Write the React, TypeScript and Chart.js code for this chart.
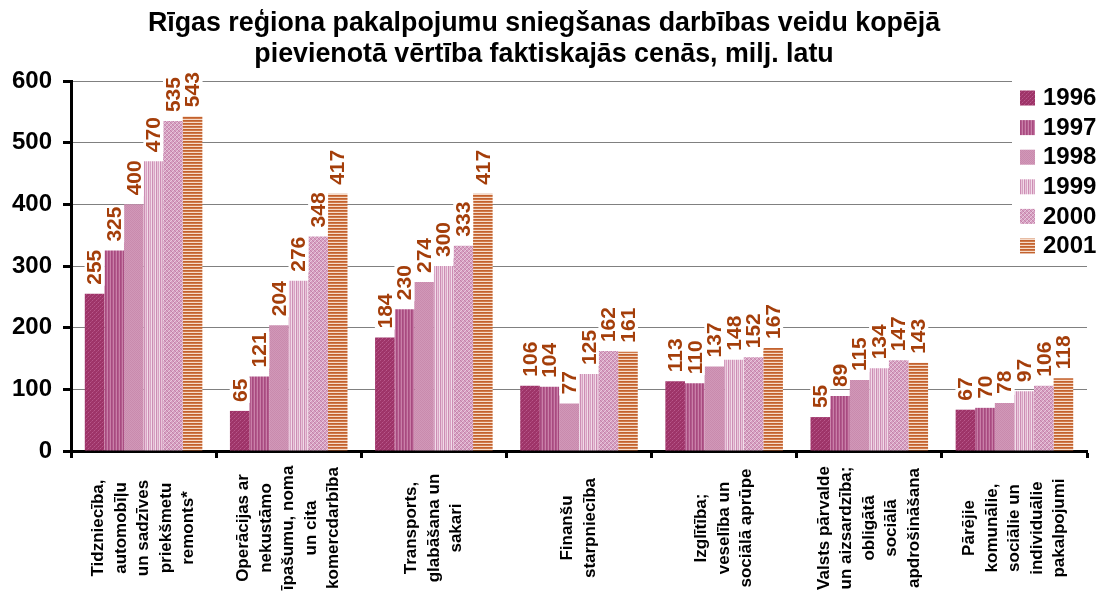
import React, { useEffect, useRef } from "react";
import { Chart, registerables } from "chart.js";
Chart.register(...registerables);

const TITLE_LINES = [
  "Rīgas reģiona pakalpojumu sniegšanas darbības veidu kopējā",
  "pievienotā vērtība faktiskajās cenās, milj. latu",
];
const CATEGORIES: string[][] = [
  ["Tidzniecība,", "automobīļu", "un sadzīves", "priekšmetu", "remonts*"],
  ["Operācijas ar", "nekustāmo", "īpašumu, noma", "un cita", "komercdarbība"],
  ["Transports,", "glabāšana un", "sakari"],
  ["Finanšu", "starpniecība"],
  ["Izglītība;", "veselība un", "sociālā aprūpe"],
  ["Valsts pārvalde", "un aizsardzība;", "obligātā", "sociālā", "apdrošināšana"],
  ["Pārējie", "komunālie,", "sociālie un", "individuālie", "pakalpojumi"],
];
const YEARS = ["1996", "1997", "1998", "1999", "2000", "2001"];
const V1996 = [255, 65, 184, 106, 113, 55, 67];
const V1997 = [325, 121, 230, 104, 110, 89, 70];
const V1998 = [400, 204, 274, 77, 137, 115, 78];
const V1999 = [470, 276, 300, 125, 148, 134, 97];
const V2000 = [535, 348, 333, 162, 152, 147, 106];
const V2001 = [543, 417, 417, 161, 167, 143, 118];
const SERIES = [V1996, V1997, V1998, V1999, V2000, V2001];
const Y_MIN = 0;
const Y_MAX = 600;
const Y_STEP = 100;

const FONT = "'Liberation Sans', Arial, sans-serif";
const LABEL_COLOR = "#a43e0a";

function makePattern(kind: number): CanvasPattern | string {
  const c = document.createElement("canvas");
  const g = c.getContext("2d")!;
  const px = (x: number, y: number, col: string) => {
    g.fillStyle = col;
    g.fillRect(x, y, 1, 1);
  };
  if (kind === 0) {
    c.width = 4; c.height = 4;
    g.fillStyle = "#9e3468"; g.fillRect(0, 0, 4, 4);
    px(0, 0, "#b8578a"); px(2, 2, "#b8578a"); px(1, 3, "#a9447a"); px(3, 1, "#a9447a");
  } else if (kind === 1) {
    c.width = 3; c.height = 1;
    px(0, 0, "#a84a80"); px(1, 0, "#b25a8c"); px(2, 0, "#c97fa8");
  } else if (kind === 2) {
    c.width = 2; c.height = 2;
    px(0, 0, "#c98aad"); px(1, 0, "#d198b8"); px(0, 1, "#d198b8"); px(1, 1, "#c98aad");
  } else if (kind === 3) {
    c.width = 4; c.height = 1;
    px(0, 0, "#cc8db4"); px(1, 0, "#e9c6da"); px(2, 0, "#d7a2c3"); px(3, 0, "#f1dbe8");
  } else if (kind === 4) {
    c.width = 4; c.height = 4;
    g.fillStyle = "#d6a0c2"; g.fillRect(0, 0, 4, 4);
    for (let i = 0; i < 4; i++) { px(i, i, "#c482a9"); px(3 - i, i, "#e8c8dc"); }
  } else {
    c.width = 1; c.height = 3;
    px(0, 0, "#c2622f"); px(0, 1, "#d07a4a"); px(0, 2, "#f6dccb");
  }
  return g.createPattern(c, "repeat") || "#c06030";
}

export default function App() {
  const ref = useRef<HTMLCanvasElement>(null);
  useEffect(() => {
    const canvas = ref.current!;
    const patterns = YEARS.map((_, i) => makePattern(i));

    const overlay = {
      id: "overlay",
      afterDatasetsDraw(chart: any) {
        const ctx = chart.ctx;
        ctx.save();
        ctx.font = `bold 21px ${FONT}`;
        ctx.textBaseline = "middle";
        ctx.textAlign = "left";
        chart.data.datasets.forEach((ds: any, di: number) => {
          const meta = chart.getDatasetMeta(di);
          meta.data.forEach((bar: any, i: number) => {
            const txt = String(ds.data[i]);
            const w = ctx.measureText(txt).width;
            ctx.fillStyle = "#ffffff";
            ctx.fillRect(bar.x - 10, bar.y - 9 - w - 1, 20, w + 2);
          });
        });
        chart.data.datasets.forEach((ds: any, di: number) => {
          const meta = chart.getDatasetMeta(di);
          meta.data.forEach((bar: any, i: number) => {
            const txt = String(ds.data[i]);
            ctx.save();
            ctx.translate(bar.x, bar.y - 9);
            ctx.rotate(-Math.PI / 2);
            ctx.fillStyle = LABEL_COLOR;
            ctx.fillText(txt, 0, 1);
            ctx.restore();
          });
        });
        ctx.restore();
      },
      afterDraw(chart: any) {
        const ctx = chart.ctx;
        const xs = chart.scales.x;
        ctx.save();
        // category labels
        ctx.font = `bold 17px ${FONT}`;
        ctx.fillStyle = "#000";
        ctx.textAlign = "center";
        ctx.textBaseline = "middle";
        const lh = 22.5;
        CATEGORIES.forEach((lines, i) => {
          const cx = xs.getPixelForValue(i);
          ctx.save();
          ctx.translate(cx, 528);
          ctx.rotate(-Math.PI / 2);
          const n = lines.length;
          lines.forEach((ln, k) => {
            ctx.fillText(ln, 0, (k - (n - 1) / 2) * lh);
          });
          ctx.restore();
        });
        // legend
        ctx.fillStyle = "#fff";
        ctx.fillRect(1012, 74, 87, 188);
        ctx.font = `bold 24px ${FONT}`;
        ctx.textAlign = "left";
        YEARS.forEach((yr, i) => {
          const cy = 97.5 + i * 29.6;
          ctx.fillStyle = patterns[i] as any;
          ctx.fillRect(1020, cy - 7, 15, 15);
          ctx.fillStyle = "#000";
          ctx.fillText(yr, 1043, cy + 1);
        });
        // title
        ctx.font = `bold 26.8px ${FONT}`;
        ctx.textAlign = "center";
        ctx.fillStyle = "#000";
        TITLE_LINES.forEach((t, i) => ctx.fillText(t, 544, 24 + i * 31));
        ctx.restore();
      },
    };

    const chart = new Chart(canvas, {
      type: "bar",
      data: {
        labels: CATEGORIES.map((c) => c.join(" ")),
        datasets: YEARS.map((yr, i) => ({
          label: yr,
          data: SERIES[i],
          backgroundColor: patterns[i] as any,
          borderWidth: 0,
          barPercentage: 1,
          categoryPercentage: 0.81,
        })),
      },
      options: {
        animation: false,
        responsive: false,
        maintainAspectRatio: false,
        layout: { padding: { top: 81, left: 0, right: 12, bottom: 0 } },
        plugins: {
          legend: { display: false },
          title: { display: false },
          tooltip: { enabled: false },
        },
        scales: {
          x: {
            afterFit: (s: any) => { s.height = 154; },
            ticks: { display: false },
            grid: {
              offset: true,
              drawOnChartArea: false,
              drawTicks: true,
              tickLength: 7,
              tickWidth: 3,
              tickColor: "#000",
              color: "#000",
            },
            border: { display: true, color: "#000", width: 3 },
          },
          y: {
            min: Y_MIN,
            max: Y_MAX,
            afterFit: (s: any) => { s.width = 71; },
            ticks: {
              stepSize: Y_STEP,
              padding: 11,
              color: "#000",
              font: { family: FONT, size: 24, weight: "bold" },
            },
            grid: {
              color: "#808080",
              lineWidth: 1,
              tickLength: 8,
              tickColor: "#000",
              tickWidth: 3,
            },
            border: { display: true, color: "#000", width: 3 },
          },
        },
      },
      plugins: [overlay],
    });
    return () => chart.destroy();
  }, []);
  return (
    <div style={{ position: "fixed", left: 0, top: 0, width: 1099, height: 605, background: "#fff" }}>
      <canvas ref={ref} width={1099} height={605} style={{ width: 1099, height: 605, display: "block" }} />
    </div>
  );
}
